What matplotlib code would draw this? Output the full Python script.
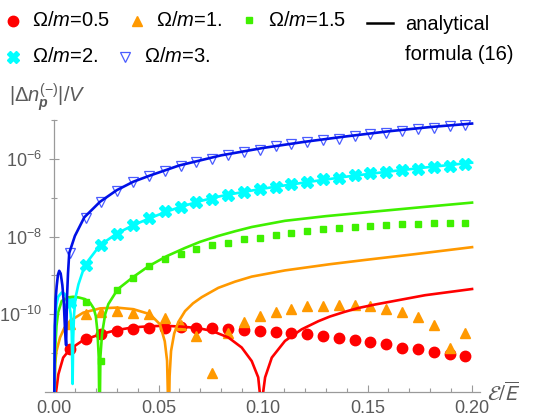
import numpy as np
import matplotlib
matplotlib.use("Agg")
from matplotlib import pyplot as plt
from matplotlib.lines import Line2D
from matplotlib.ticker import FixedLocator, NullFormatter, LogFormatterMathtext

plt.rcParams['font.family'] = ['Liberation Sans', 'DejaVu Sans']
plt.rcParams['mathtext.fontset'] = 'custom'
plt.rcParams['mathtext.rm'] = 'Liberation Sans'
plt.rcParams['mathtext.it'] = 'Liberation Sans:italic'
plt.rcParams['mathtext.bf'] = 'Liberation Sans:bold'
bold_p = r'\mathbf{p}'
if 'mathtext.bfit' in plt.rcParams:
    plt.rcParams['mathtext.bfit'] = 'Liberation Sans:italic:bold'
    bold_p = r'\mathbfit{p}'

# numerical points, eps = energy / mean energy, values are log10 |dn|/V
eps_pts = [0.0076, 0.0151, 0.0227, 0.0303, 0.0379, 0.0454, 0.0530, 0.0606, 0.0681,
           0.0757, 0.0833, 0.0908, 0.0984, 0.1060, 0.1136, 0.1211, 0.1287, 0.1363,
           0.1438, 0.1514, 0.1590, 0.1665, 0.1741, 0.1817, 0.1893, 0.1968]
pts_05 = [-10.90, -10.645, -10.516, -10.43, -10.387, -10.344, -10.344, -10.327, -10.344,
          -10.344, -10.387, -10.413, -10.43, -10.456, -10.49, -10.516, -10.56, -10.619,
          -10.671, -10.73, -10.774, -10.86, -10.903, -10.963, -11.015, -11.075]
pts_1 = [-10.25, -9.982, -9.94, -9.915, -9.957, -10.0, -10.086, -10.284, -10.56,
         -11.505, -10.473, -10.19, -10.043, -9.94, -9.853, -9.80, -9.785, -9.768,
         -9.768, -9.80, -9.853, -9.94, -10.06, -10.276, -10.877, -10.49]
pts_15 = [-9.65, -9.69, -11.2, -9.372, -9.053, -8.753, -8.581, -8.452, -8.323,
          -8.219, -8.15, -8.065, -8.021, -7.961, -7.910, -7.858, -7.806, -7.763,
          -7.747, -7.721, -7.703, -7.677, -7.66, -7.652, -7.634, -7.634]
pts_2 = [-9.69, -8.727, -8.219, -7.918, -7.703, -7.523, -7.334, -7.231, -7.092,
         -7.015, -6.929, -6.843, -6.774, -6.715, -6.645, -6.586, -6.516, -6.473,
         -6.405, -6.361, -6.318, -6.275, -6.241, -6.198, -6.172, -6.111]
pts_3 = [-8.41, -7.505, -7.092, -6.818, -6.601, -6.446, -6.310, -6.173, -6.085,
         -6.0, -5.897, -5.827, -5.760, -5.672, -5.605, -5.569, -5.510, -5.484,
         -5.414, -5.355, -5.311, -5.277, -5.226, -5.192, -5.156, -5.123]

# analytical curves (eps, log10)
an_eps_05 = [0.0003, 0.0010, 0.0021, 0.0044, 0.0077, 0.014, 0.022, 0.030, 0.0379, 0.0459,
             0.0531, 0.0611, 0.0690, 0.0755, 0.0834, 0.0898, 0.0946, 0.0977, 0.0988,
             0.0992, 0.0996, 0.1010, 0.1042, 0.1105, 0.1185, 0.1265, 0.132, 0.139,
             0.1456, 0.1536, 0.1616, 0.1775, 0.2]
an_05 = [-12.5, -12.0, -11.55, -11.12, -10.90, -10.67, -10.52, -10.41, -10.34, -10.31,
         -10.30, -10.32, -10.36, -10.43, -10.60, -10.86, -11.21, -11.63, -12.2,
         -13.5, -12.2, -11.63, -11.12, -10.69, -10.39, -10.18, -10.06, -9.94,
         -9.84, -9.75, -9.67, -9.51, -9.35]
an_eps_1 = [0.0002, 0.0005, 0.0012, 0.0029, 0.0050, 0.0077, 0.014, 0.022, 0.030, 0.0379,
            0.0459, 0.0507, 0.0530, 0.0541, 0.0549, 0.0553, 0.0560, 0.0575, 0.0595,
            0.0627, 0.0665, 0.0707, 0.0786, 0.0866, 0.0946, 0.1105, 0.132, 0.1488,
            0.1727, 0.2]
an_1 = [-12.5, -11.29, -10.95, -10.60, -10.35, -10.17, -9.96, -9.85, -9.83, -9.87,
        -10.0, -10.26, -10.7, -11.2, -13.0, -11.6, -10.95, -10.5, -10.2,
        -9.92, -9.72, -9.56, -9.32, -9.16, -9.03, -8.87, -8.71, -8.60,
        -8.45, -8.27]
an_eps_15 = [0.0002, 0.0006, 0.0012, 0.0020, 0.0037, 0.0060, 0.0092, 0.0120, 0.0148,
             0.0172, 0.0190, 0.0200, 0.0208, 0.0214, 0.0218, 0.0222, 0.0230, 0.0245,
             0.026, 0.0305, 0.0379, 0.0453, 0.054, 0.0627, 0.070, 0.0786, 0.0866,
             0.0946, 0.1105, 0.13, 0.1536, 0.1775, 0.2]
an_15 = [-12.5, -10.9, -10.3, -9.95, -9.66, -9.57, -9.55, -9.57, -9.61,
         -9.70, -9.85, -10.05, -10.45, -11.1, -13.0, -11.1, -10.5, -10.0,
         -9.74, -9.355, -9.04, -8.76, -8.50, -8.29, -8.13, -7.98, -7.86,
         -7.75, -7.59, -7.47, -7.35, -7.23, -7.12]
an_eps_2 = [0.0001, 0.0005, 0.0012, 0.0020, 0.0037, 0.0050, 0.0062, 0.0072, 0.0080,
            0.0085, 0.0089, 0.0092, 0.0096, 0.0103, 0.0117, 0.0148, 0.022, 0.030,
            0.038, 0.046, 0.053, 0.0605, 0.07, 0.08, 0.09, 0.10, 0.12, 0.14, 0.16,
            0.18, 0.2]
an_2 = [-12.5, -10.3, -9.75, -9.55, -9.44, -9.47, -9.58, -9.70, -10.0,
        -10.5, -11.8, -10.6, -10.0, -9.57, -9.23, -8.73, -8.22, -7.92,
        -7.70, -7.52, -7.37, -7.23, -7.08, -6.95, -6.85, -6.76, -6.60, -6.45, -6.32,
        -6.20, -6.09]
an_eps_3 = [0.0001, 0.0004, 0.0008, 0.0013, 0.0019, 0.0025, 0.0032, 0.0040, 0.0047,
            0.0053, 0.0058, 0.0062, 0.0067, 0.0073, 0.0100, 0.0145, 0.022, 0.030,
            0.038, 0.046, 0.06, 0.08, 0.10, 0.12, 0.14, 0.16, 0.18, 0.2]
an_3 = [-12.5, -10.3, -9.6, -9.27, -8.98, -8.88, -8.95, -9.25, -9.7,
        -10.43, -10.8, -9.6, -8.95, -8.42, -7.98, -7.50, -7.10, -6.80,
        -6.58, -6.42, -6.16, -5.90, -5.71, -5.55, -5.41, -5.28, -5.17, -5.08]

labels = [r'Ω/$m$=0.5', r'Ω/$m$=1.', r'Ω/$m$=1.5', r'Ω/$m$=2.', r'Ω/$m$=3.']
colors = ['#ff0000', '#ff9900', '#3ff000', '#00ffff', '#0010e6']
styles = [dict(marker='o', ms=7.5, mfc='#ff0000', mec='#ff0000'),
          dict(marker='^', ms=7, mfc='#ff9900', mec='#ff9900'),
          dict(marker='s', ms=5, mfc='#3ff000', mec='#3ff000'),
          dict(marker='X', ms=8, mfc='#00ffff', mec='#00ffff'),
          dict(marker='v', ms=6.5, mfc='none', mec='#4a5cff', mew=0.9)]

fig = plt.figure(figsize=(5.35, 4.2), dpi=100)
W, H = 535.0, 420.0
ax = fig.add_axes([45 / W, 28.3 / H, 435 / W, 271.25 / H])
ax.set_yscale('log')

all_pts = [pts_05, pts_1, pts_15, pts_2, pts_3]
all_an = [(an_eps_05, an_05), (an_eps_1, an_1), (an_eps_15, an_15),
          (an_eps_2, an_2), (an_eps_3, an_3)]
for p, st in zip(all_pts, styles):
    ax.plot(eps_pts, np.power(10.0, p), ls='none', zorder=2, **st)
for (e, v), c in zip(all_an, colors):
    ax.plot(e, np.power(10.0, v), color=c, lw=1.9, zorder=3, solid_joinstyle='round')

ax.set_xlim(-0.0043, 0.2038)
ax.set_ylim(1e-12, 1e-5)

axis_col = '#9a9a9a'
for s in ['top', 'right']:
    ax.spines[s].set_visible(False)
ax.spines['left'].set_position(('data', 0))
for s in ['left', 'bottom']:
    ax.spines[s].set_color(axis_col)
    ax.spines[s].set_linewidth(0.9)

ax.xaxis.set_major_locator(FixedLocator([0, 0.05, 0.1, 0.15, 0.2]))
ax.xaxis.set_minor_locator(FixedLocator(np.arange(0, 0.2001, 0.01)))
ax.set_xticklabels(['0.00', '0.05', '0.10', '0.15', '0.20'])
ax.yaxis.set_major_locator(FixedLocator([1e-10, 1e-8, 1e-6]))
ax.yaxis.set_minor_locator(FixedLocator([1e-11, 1e-9, 1e-7, 1e-5]))
ax.yaxis.set_major_formatter(LogFormatterMathtext())
ax.yaxis.set_minor_formatter(NullFormatter())
ax.tick_params(axis='both', which='both', color=axis_col, width=0.8,
               labelcolor='#5a5a5a', labelsize=13)
ax.tick_params(axis='x', which='major', direction='in', length=5, pad=6)
ax.tick_params(axis='x', which='minor', direction='in', length=3)
ax.tick_params(axis='y', which='major', direction='inout', length=7, pad=5)
ax.tick_params(axis='y', which='minor', direction='inout', length=5)

fig.text(487 / W, 1 - 393 / H, r'$\mathcal{E}/\overline{E}$', math_fontfamily='stixsans',
         color='#5a5a5a', fontsize=15, ha='left', va='center')
fig.text(9 / W, 1 - 102 / H, r'$|\Delta n_{' + bold_p + r'}^{(-)}|/V$',
         color='#5a5a5a', fontsize=14.5, ha='left', va='baseline')

# legend, laid out like the original two rows
def legend_entry(mx, my, tx, label, st):
    fig.add_artist(Line2D([mx / W], [1 - my / H], transform=fig.transFigure, ls='none', **st))
    fig.text(tx / W, 1 - my / H, label, fontsize=14.5, ha='left', va='center', color='black')

legend_entry(12.5, 20.5, 32, labels[0], styles[0])
legend_entry(137, 21, 156, labels[1], styles[1])
legend_entry(248.5, 20, 267.5, labels[2], styles[2])
legend_entry(13, 57, 32, labels[3], styles[3])
legend_entry(125, 57, 144, labels[4], styles[4])
fig.add_artist(Line2D([367 / W, 393 / W], [1 - 23 / H, 1 - 23 / H], transform=fig.transFigure,
                      color='black', lw=1.8))
fig.text(405 / W, 1 - 24 / H, 'analytical', fontsize=14.5, ha='left', va='center')
fig.text(405 / W, 1 - 55 / H, 'formula (16)', fontsize=14.5, ha='left', va='center')

fig.savefig('out.png', dpi=100)
